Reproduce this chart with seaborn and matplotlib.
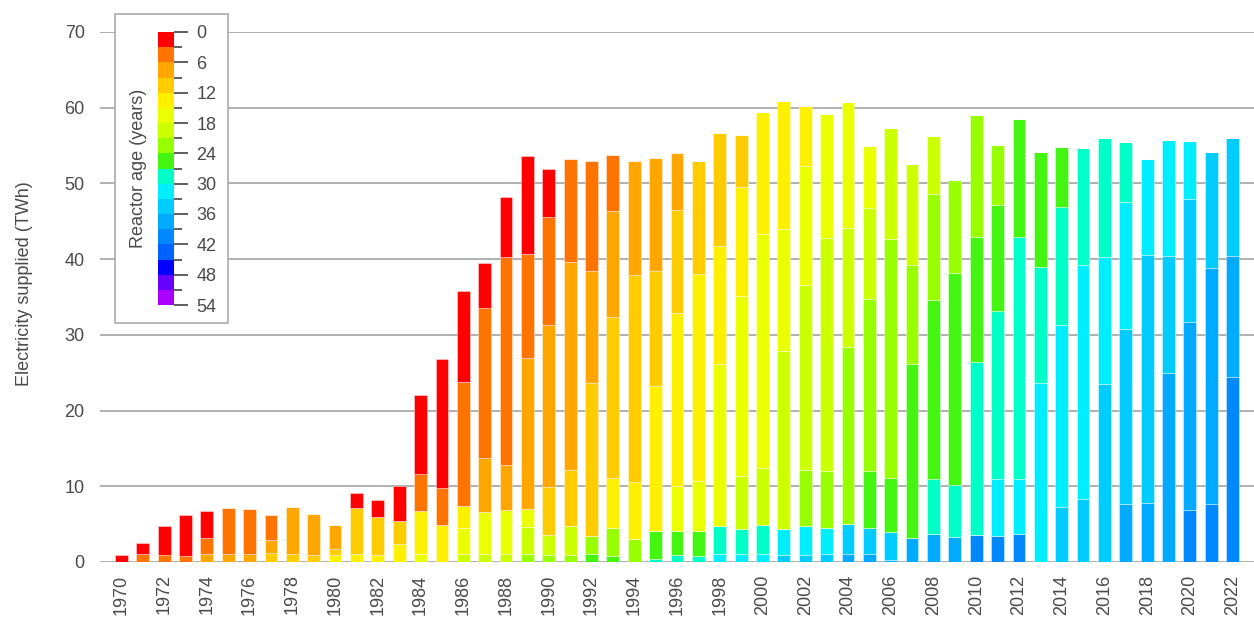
import numpy as np
import pandas as pd
import matplotlib
matplotlib.use("Agg")
import matplotlib.pyplot as plt
import seaborn as sns
from matplotlib.colors import ListedColormap, BoundaryNorm
from matplotlib.cm import ScalarMappable
from matplotlib.patches import Rectangle

years = list(range(1970, 2023))

# electricity supplied (TWh) by reactor age bin, one value per year 1970..2022
age_00_03 = [0.9, 1.5, 3.8, 5.4, 3.6, 0, 0, 0, 0, 0,
             0, 1.9, 2.35, 4.75, 10.4, 17.05, 12.0, 5.95, 7.9, 13.0,
             6.3, 0, 0, 0, 0, 0, 0, 0, 0, 0,
             0, 0, 0, 0, 0, 0, 0, 0, 0, 0,
             0, 0, 0, 0, 0, 0, 0, 0, 0, 0,
             0, 0, 0]
age_03_06 = [0, 1.0, 0.9, 0.85, 2.2, 6.1, 6.0, 3.3, 0, 0,
             0, 0, 0, 0, 4.8, 4.9, 16.4, 19.7, 27.45, 13.75,
             14.25, 13.65, 14.6, 7.35, 0, 0, 0, 0, 0, 0,
             0, 0, 0, 0, 0, 0, 0, 0, 0, 0,
             0, 0, 0, 0, 0, 0, 0, 0, 0, 0,
             0, 0, 0]
age_06_09 = [0, 0, 0, 0, 1.0, 1.0, 1.0, 1.7, 6.2, 5.45,
             3.25, 0, 0, 0, 0, 0, 0, 7.2, 5.95, 19.9,
             21.4, 27.5, 14.8, 13.95, 15.05, 14.95, 7.6, 0, 0, 0,
             0, 0, 0, 0, 0, 0, 0, 0, 0, 0,
             0, 0, 0, 0, 0, 0, 0, 0, 0, 0,
             0, 0, 0]
age_09_12 = [0, 0, 0, 0, 0, 0, 0, 1.15, 1.0, 0.9,
             0.8, 6.15, 5.0, 3.0, 0, 0, 0, 0, 0, 0,
             6.35, 7.4, 20.1, 21.3, 27.35, 15.2, 13.5, 14.95, 14.9, 6.8,
             0, 0, 0, 0, 0, 0, 0, 0, 0, 0,
             0, 0, 0, 0, 0, 0, 0, 0, 0, 0,
             0, 0, 0]
age_12_15 = [0, 0, 0, 0, 0, 0, 0, 0, 0, 0,
             0.9, 1.0, 0.9, 2.35, 5.7, 4.85, 2.95, 0, 0, 0,
             0, 0, 0, 6.6, 7.45, 19.1, 22.9, 27.3, 15.6, 14.4,
             16.1, 16.9, 7.85, 0, 0, 0, 0, 0, 0, 0,
             0, 0, 0, 0, 0, 0, 0, 0, 0, 0,
             0, 0, 0]
age_15_18 = [0, 0, 0, 0, 0, 0, 0, 0, 0, 0,
             0, 0, 0, 0, 1.1, 0, 3.45, 5.55, 5.75, 2.4,
             0, 0, 0, 0, 0, 0, 5.95, 6.6, 21.3, 23.8,
             30.95, 16.1, 15.8, 16.4, 16.65, 8.1, 0, 0, 0, 0,
             0, 0, 0, 0, 0, 0, 0, 0, 0, 0,
             0, 0, 0]
age_18_21 = [0, 0, 0, 0, 0, 0, 0, 0, 0, 0,
             0, 0, 0, 0, 0, 0, 1.0, 1.05, 1.1, 3.5,
             2.65, 3.8, 0, 0, 0, 0, 0, 0, 0, 7.0,
             7.5, 23.5, 24.4, 30.7, 15.7, 12.05, 14.7, 13.35, 7.75, 0,
             0, 0, 0, 0, 0, 0, 0, 0, 0, 0,
             0, 0, 0]
age_21_24 = [0, 0, 0, 0, 0, 0, 0, 0, 0, 0,
             0, 0, 0, 0, 0, 0, 0, 0, 0, 1.1,
             0.9, 0.9, 2.4, 3.7, 3.1, 0, 0, 0, 0, 0,
             0, 0, 7.4, 7.5, 23.45, 22.7, 31.5, 13.1, 14.0, 12.35,
             16.2, 7.85, 0, 0, 0, 0, 0, 0, 0, 0,
             0, 0, 0]
age_24_27 = [0, 0, 0, 0, 0, 0, 0, 0, 0, 0,
             0, 0, 0, 0, 0, 0, 0, 0, 0, 0,
             0, 0, 1.1, 0.8, 0, 3.75, 3.15, 3.35, 0, 0,
             0, 0, 0, 0, 0, 7.55, 7.15, 22.95, 23.6, 27.95,
             16.45, 14.1, 15.65, 15.2, 7.85, 0, 0, 0, 0, 0,
             0, 0, 0]
age_27_30 = [0, 0, 0, 0, 0, 0, 0, 0, 0, 0,
             0, 0, 0, 0, 0, 0, 0, 0, 0, 0,
             0, 0, 0, 0, 0, 0.35, 0.95, 0.75, 3.8, 3.25,
             3.75, 0, 0, 0, 0, 0, 0, 0, 7.2, 6.9,
             22.9, 22.1, 31.9, 15.3, 15.6, 15.4, 15.65, 7.95, 0, 0,
             0, 0, 0]
age_30_33 = [0, 0, 0, 0, 0, 0, 0, 0, 0, 0,
             0, 0, 0, 0, 0, 0, 0, 0, 0, 0,
             0, 0, 0, 0, 0, 0, 0, 0, 1.0, 1.1,
             1.1, 3.45, 3.85, 3.55, 0, 0, 0, 0, 0, 0,
             0, 7.5, 7.35, 23.7, 24.1, 30.9, 16.75, 16.75, 12.7, 15.25,
             7.65, 0, 0]
age_33_36 = [0, 0, 0, 0, 0, 0, 0, 0, 0, 0,
             0, 0, 0, 0, 0, 0, 0, 0, 0, 0,
             0, 0, 0, 0, 0, 0, 0, 0, 0, 0,
             0, 0.95, 0.9, 1.0, 3.9, 3.45, 3.75, 0, 0, 0,
             0, 0, 0, 0, 7.2, 8.35, 23.55, 23.1, 32.7, 15.55,
             16.25, 15.3, 15.6]
age_36_39 = [0, 0, 0, 0, 0, 0, 0, 0, 0, 0,
             0, 0, 0, 0, 0, 0, 0, 0, 0, 0,
             0, 0, 0, 0, 0, 0, 0, 0, 0, 0,
             0, 0, 0, 0, 1.1, 1.05, 0.2, 3.2, 3.75, 3.3,
             0, 0, 0, 0, 0, 0, 0, 7.7, 7.85, 24.9,
             24.9, 31.2, 15.95]
age_39_42 = [0, 0, 0, 0, 0, 0, 0, 0, 0, 0,
             0, 0, 0, 0, 0, 0, 0, 0, 0, 0,
             0, 0, 0, 0, 0, 0, 0, 0, 0, 0,
             0, 0, 0, 0, 0, 0, 0, 0, 0, 0,
             3.55, 3.5, 3.65, 0, 0, 0, 0, 0, 0, 0,
             6.85, 7.6, 24.5]

age_bins = ["0-3", "3-6", "6-9", "9-12", "12-15", "15-18", "18-21", "21-24",
            "24-27", "27-30", "30-33", "33-36", "36-39", "39-42"]
series = [age_00_03, age_03_06, age_06_09, age_09_12, age_12_15, age_15_18,
          age_18_21, age_21_24, age_24_27, age_27_30, age_30_33, age_33_36,
          age_36_39, age_39_42]

# colours of the 3-year age bins 0..54
bin_colors = ["#ff0000", "#ff7300", "#ffa600", "#ffcc00", "#fff000", "#eaff00",
              "#ccff00", "#99ff00", "#44f511", "#00ffc8", "#00eeff", "#00ccff",
              "#00aaff", "#0088ff", "#0062ff", "#0000ff", "#6600ff", "#aa00ff"]
age_ticks = list(range(0, 55, 6))

rows = []
for label, vals in zip(age_bins, series):
    for y, v in zip(years, vals):
        rows.append((y, label, v))
df = pd.DataFrame(rows, columns=["year", "age", "twh"])
palette = dict(zip(age_bins, bin_colors))

sns.set_style("white")
plt.rcParams["font.family"] = ["Liberation Sans", "DejaVu Sans"]
txt = "#4a4a4a"

fig = plt.figure(figsize=(12.54, 6.17), dpi=100)
ax = fig.add_axes([100 / 1254, 1 - 562 / 617, 1154 / 1254, 530 / 617])

sns.histplot(data=df, x="year", weights="twh", hue="age", hue_order=age_bins,
             multiple="stack", discrete=True, shrink=0.6, palette=palette,
             alpha=1, edgecolor=(1, 1, 1, 0.45), linewidth=0.6,
             legend=False, ax=ax)

ax.set_xlim(1969, 2023)
ax.set_ylim(0, 70)
ax.set_yticks(range(0, 71, 10))
ax.set_xticks(years[::2])
ax.set_xticklabels([str(y) for y in years[::2]], rotation=90)
ax.tick_params(axis="both", length=0, labelsize=13, labelcolor=txt)
ax.tick_params(axis="x", pad=9)
ax.tick_params(axis="y", pad=11)
ax.yaxis.grid(True, color="#aaaaaa", linewidth=1.3)
ax.set_axisbelow(True)
for s in ax.spines.values():
    s.set_visible(False)
ax.set_xlabel("")
ax.set_ylabel("Electricity supplied (TWh)", fontsize=13, color=txt)
ax.yaxis.set_label_coords(-0.058, 0.525)

# legend box with colour scale
fig.patches.append(Rectangle((115 / 1254, 1 - 323 / 617), 113 / 1254, 309 / 617,
                             transform=fig.transFigure, facecolor="white",
                             edgecolor="#aaaaaa", linewidth=1.2, zorder=1))
cax = fig.add_axes([158 / 1254, 1 - 305 / 617, 16 / 1254, 273 / 617])
cax.set_zorder(2)
cmap = ListedColormap(bin_colors)
norm = BoundaryNorm(np.arange(0, 57, 3), cmap.N)
cb = fig.colorbar(ScalarMappable(norm=norm, cmap=cmap), cax=cax,
                  ticks=age_ticks, drawedges=True)
cb.outline.set_visible(False)
cb.dividers.set_color((1, 1, 1, 0.7))
cb.dividers.set_linewidth(1.0)
cax.invert_yaxis()
cax.yaxis.set_ticks(range(3, 54, 6), minor=True)
cax.tick_params(which="major", length=10, width=1.1, color="#333333",
                labelsize=13, labelcolor=txt, pad=6)
cax.tick_params(which="minor", length=6, width=1.1, color="#333333")
cax.set_ylabel("Reactor age (years)", fontsize=13, color=txt, labelpad=8)
cax.yaxis.set_label_position("left")

fig.savefig("out.png", dpi=100)
